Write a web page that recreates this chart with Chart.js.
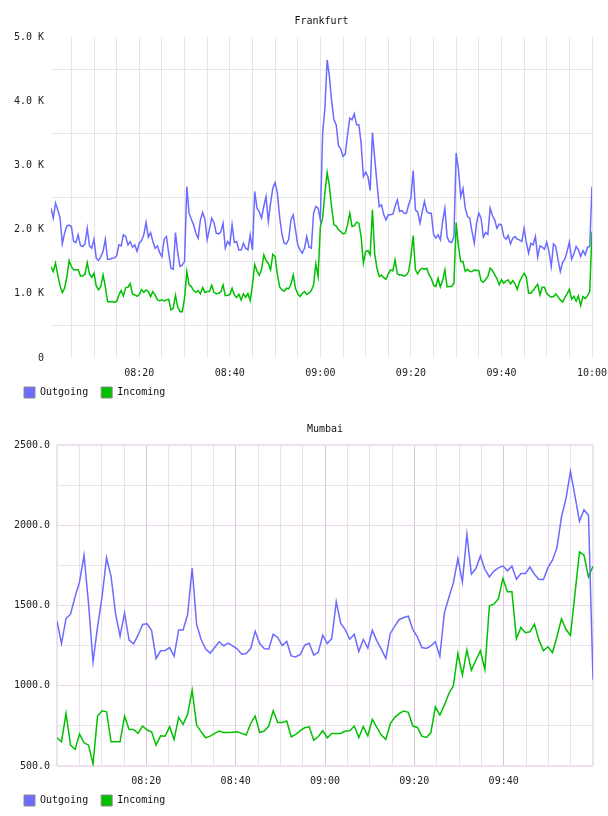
<!DOCTYPE html>
<html><head><meta charset="utf-8">
<script src="https://cdn.jsdelivr.net/npm/chart.js@4.4.1/dist/chart.umd.min.js"></script>
<style>html,body{margin:0;padding:0;background:#fff}canvas{display:block}</style>
</head><body>
<canvas id="fra" width="608" height="408"></canvas>
<canvas id="mum" width="608" height="408"></canvas>
<script>
const seriesNames = ['Outgoing', 'Incoming'];
const seriesColors = ['#6b6bff', '#00c000'];

// Frankfurt: one sample every 30 s, first at 08:00:30 (minutes after 08:00)
const frankfurtStartMin = 0.5;
const frankfurtStepMin = 0.5;
const frankfurtOutgoing = [
2334,2178,2412,2308,2178,1778,1944,2058,2069,2048,
1814,1799,1918,1752,1736,1778,2022,1747,1710,1850,
1554,1518,1580,1658,1850,1538,1538,1554,1559,1590,
1762,1747,1918,1892,1762,1814,1726,1762,1663,1788,
1830,1918,2110,1882,1954,1814,1710,1747,1642,1580,
1850,1892,1632,1398,1382,1954,1632,1425,1450,1502,
2672,2256,2162,2074,1944,1866,2152,2266,2162,1840,
2006,2178,2110,1944,1934,1960,2100,1710,1814,1762,
2074,1799,1814,1684,1684,1788,1710,1684,1918,1684,
2594,2334,2282,2178,2360,2516,2126,2412,2646,2734,
2568,2204,1934,1788,1778,1850,2152,2230,1996,1762,
1684,1632,1710,1892,1726,1710,2256,2360,2334,2152,
3502,3892,4645,4386,3996,3710,3632,3305,3258,3139,
3180,3476,3736,3710,3804,3632,3632,3347,2827,2895,
2827,2609,3513,3113,2723,2360,2386,2230,2152,2230,
2230,2240,2360,2464,2282,2298,2256,2256,2386,2490,
2921,2308,2272,2100,2282,2438,2282,2256,2256,1928,
1866,1918,1840,2126,2334,1882,1814,1799,1892,3191,
2931,2516,2641,2334,2204,2178,1970,1788,2100,2256,
2178,1882,1954,1923,2334,2220,2152,2022,2084,2074,
1892,1850,1908,1778,1866,1892,1850,1840,1814,2022,
1799,1632,1788,1762,1892,1570,1747,1726,1694,1804,
1658,1425,1778,1736,1529,1346,1492,1538,1658,1809,
1538,1622,1736,1684,1580,1674,1606,1726,1736,2672
];
const frankfurtIncoming = [
1425,1346,1477,1294,1123,1019,1087,1258,1518,1425,
1373,1373,1373,1279,1279,1305,1487,1310,1258,1321,
1123,1061,1113,1294,1113,879,873,879,868,879,
983,1050,967,1097,1102,1160,998,983,962,988,
1066,1024,1061,1035,957,1035,978,905,894,905,
889,905,915,749,775,978,790,722,722,931,
1346,1139,1113,1050,1024,1050,998,1097,1019,1035,
1035,1134,1019,1003,1009,1029,1139,972,978,988,
1087,983,941,993,905,998,946,1003,894,1139,
1456,1357,1289,1373,1606,1518,1477,1373,1616,1580,
1305,1108,1061,1040,1087,1076,1149,1294,1087,998,
957,1003,1035,988,1009,1050,1139,1466,1269,2048,
2178,2568,2890,2672,2334,2074,2058,1996,1970,1934,
1944,2074,2256,2048,2058,2116,2100,1892,1477,1658,
1674,1606,2308,1622,1398,1269,1294,1252,1226,1310,
1373,1357,1529,1310,1294,1294,1274,1294,1346,1580,
1908,1373,1310,1373,1398,1382,1398,1299,1242,1134,
1113,1242,1108,1206,1373,1108,1113,1113,1165,2110,
1736,1502,1502,1351,1382,1346,1346,1373,1362,1362,
1206,1180,1222,1269,1398,1362,1299,1237,1139,1217,
1165,1201,1217,1154,1206,1154,1071,1190,1258,1321,
1258,1009,1009,1050,1102,1149,983,1102,1102,1009,
972,946,957,998,952,905,873,941,998,1071,
915,962,884,967,816,957,926,972,1035,1970
];

// Mumbai: 120 samples spread from 08:00 to 10:00
const mumbaiStartMin = 0;
const mumbaiStepMin = 120 / 119;
const mumbaiOutgoing = [
1402,1263,1419,1446,1554,1647,1813,1512,1149,1367,
1554,1797,1682,1450,1309,1454,1284,1261,1315,1382,
1386,1344,1170,1218,1220,1238,1184,1348,1348,1444,
1732,1382,1288,1228,1203,1238,1274,1249,1265,1249,
1230,1197,1201,1232,1340,1263,1232,1228,1321,1301,
1251,1276,1186,1180,1195,1253,1265,1191,1207,1315,
1263,1294,1523,1388,1350,1290,1321,1213,1288,1234,
1346,1280,1228,1170,1326,1371,1413,1425,1433,1350,
1305,1238,1232,1249,1274,1184,1454,1550,1641,1792,
1647,1944,1695,1730,1809,1724,1678,1714,1734,1747,
1716,1745,1664,1699,1699,1740,1695,1662,1662,1736,
1782,1861,2052,2166,2336,2182,2025,2097,2062,1039
];
const mumbaiIncoming = [
676,651,827,630,603,699,645,630,512,811,
844,838,651,651,651,811,728,728,703,749,
724,713,630,688,686,745,666,803,759,823,
973,755,713,676,686,703,718,709,709,711,
713,703,693,765,811,709,718,749,844,771,
771,780,682,697,720,738,744,661,682,720,
676,703,703,703,718,720,749,678,745,688,
790,740,693,666,765,803,828,842,834,749,
740,686,678,707,869,817,879,952,1000,1201,
1066,1222,1097,1159,1218,1101,1498,1508,1543,1668,
1585,1585,1294,1363,1330,1336,1384,1284,1218,1243,
1207,1305,1417,1352,1313,1574,1834,1813,1678,1745
];

const frankfurtTimeTicks = ['08:20','08:40','09:00','09:20','09:40','10:00'];
const mumbaiTimeTicks = ['08:20','08:40','09:00','09:20','09:40'];
const frankfurtValueTicks = ['0','1.0 K','2.0 K','3.0 K','4.0 K','5.0 K'];
const mumbaiValueTicks = ['500.0','1000.0','1500.0','2000.0','2500.0'];

function hhmm(min){
  const t = 8*60 + Math.round(min);
  const h = Math.floor(t/60), m = t%60;
  return String(h).padStart(2,'0') + ':' + String(m).padStart(2,'0');
}
function toPoints(values, start, step){
  return values.map((v,i)=>({x: start + i*step, y: v}));
}

Chart.defaults.font.family = '"DejaVu Sans Mono", monospace';
Chart.defaults.font.size = 10;
Chart.defaults.color = '#222';

// let the time labels draw below the (deliberately short) x-axis box
const labelRoom = {id: 'labelRoom', afterLayout(chart){ const s = chart.scales.x; s.bottom = s.top + 30; }};

function legendOpts(){
  return {
    display: true, position: 'bottom', align: 'start',
    labels: {
      boxWidth: 11, boxHeight: 11, padding: 13, color: '#111',
      font: {size: 10},
      generateLabels(chart){
        const items = Chart.defaults.plugins.legend.labels.generateLabels(chart);
        items.forEach(it => { it.strokeStyle = '#8c8c8c'; it.lineWidth = 1; });
        return items;
      }
    }
  };
}
function titleOpts(text){
  return {display: true, text, fullSize: false, color: '#111',
    font: {size: 10, weight: 'normal'}, padding: {top: 15, bottom: 10}};
}
function makeDatasets(a, b, start, step){
  return [a, b].map((vals, i) => ({
    label: seriesNames[i], data: toPoints(vals, start, step),
    borderColor: seriesColors[i], backgroundColor: seriesColors[i],
    borderWidth: 1.5, pointRadius: 0, tension: 0, fill: false
  }));
}

new Chart(document.getElementById('fra'), {
  type: 'line',
  data: {datasets: makeDatasets(frankfurtOutgoing, frankfurtIncoming, frankfurtStartMin, frankfurtStepMin)},
  plugins: [labelRoom],
  options: {
    responsive: false, animation: false, devicePixelRatio: 1,
    layout: {padding: {left: 11, right: 16, top: 0, bottom: 0}},
    plugins: {title: titleOpts('Frankfurt'), legend: legendOpts(), tooltip: {enabled: false}},
    scales: {
      x: {
        type: 'linear', min: frankfurtStartMin, max: 120,
        border: {display: false},
        grid: {drawTicks: false, color: '#e6e6e6', lineWidth: 1},
        ticks: {stepSize: 5, autoSkip: false, maxRotation: 0, includeBounds: false, padding: 9,
          callback(v){ const s = hhmm(v); return (v % 20 === 0 && frankfurtTimeTicks.includes(s)) ? s : ''; }},
        afterFit(s){ s.height = 16; s.paddingLeft = 0; s.paddingRight = 0; }
      },
      y: {
        min: 0, max: 5000,
        border: {display: false},
        grid: {drawTicks: false, lineWidth: 1,
          color: c => (c.tick && c.tick.value % 1000 === 0) ? 'rgba(0,0,0,0)' : '#e6e6e6'},
        ticks: {stepSize: 500, autoSkip: false, padding: 7,
          callback(v){ return v % 1000 === 0 ? frankfurtValueTicks[v/1000] : ''; }},
        afterFit(s){ s.width = 40; }
      }
    }
  }
});

const frame = '#efe0ef';
new Chart(document.getElementById('mum'), {
  type: 'line',
  data: {datasets: makeDatasets(mumbaiOutgoing, mumbaiIncoming, mumbaiStartMin, mumbaiStepMin)},
  plugins: [labelRoom],
  options: {
    responsive: false, animation: false, devicePixelRatio: 1,
    layout: {padding: {left: 11, right: 15, top: 0, bottom: 0}},
    plugins: {title: titleOpts('Mumbai'), legend: legendOpts(), tooltip: {enabled: false}},
    scales: {
      x: {
        type: 'linear', min: 0, max: 120,
        border: {display: false},
        grid: {drawTicks: false,
          color: c => { const v = c.tick ? c.tick.value : 1; if (v === 0 || v === 120) return frame; return v % 20 === 0 ? '#dcc3dc' : '#e9e1e9'; },
          lineWidth: c => { const v = c.tick ? c.tick.value : 1; return (v === 0 || v === 120) ? 2 : 1; }},
        ticks: {stepSize: 5, autoSkip: false, maxRotation: 0, padding: 9,
          callback(v){ const s = hhmm(v); return (v % 20 === 0 && mumbaiTimeTicks.includes(s)) ? s : ''; }},
        afterFit(s){ s.height = 16; s.paddingLeft = 0; s.paddingRight = 0; }
      },
      y: {
        min: 500, max: 2500,
        border: {display: false},
        grid: {drawTicks: false,
          color: c => { const v = c.tick ? c.tick.value : 0; if (v === 500 || v === 2500) return frame; return v % 500 === 0 ? '#ead7ea' : '#e8e2e8'; },
          lineWidth: c => { const v = c.tick ? c.tick.value : 0; return (v === 500 || v === 2500) ? 2 : 1; }},
        ticks: {stepSize: 250, autoSkip: false, padding: 7,
          callback(v){ return v % 500 === 0 ? mumbaiValueTicks[(v-500)/500] : ''; }},
        afterFit(s){ s.width = 46; }
      }
    }
  }
});
</script>
</body></html>
